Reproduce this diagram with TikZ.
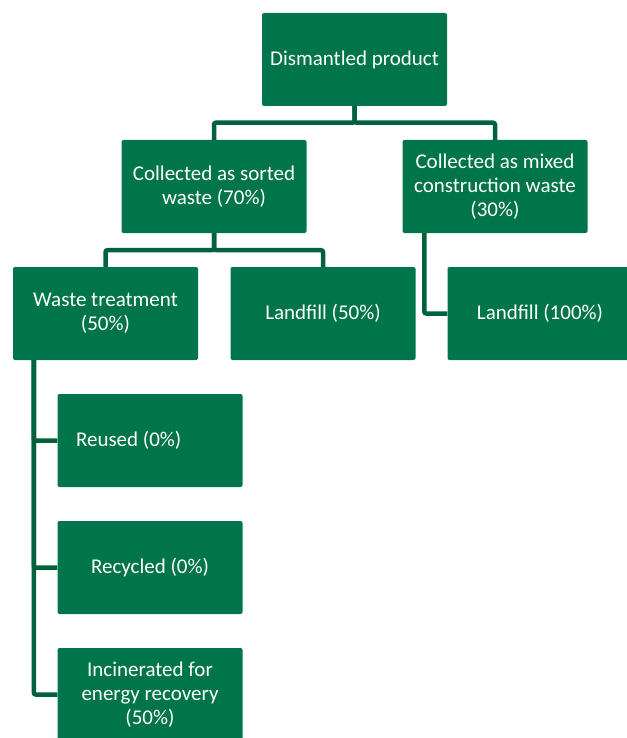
\documentclass[tikz,border=0pt]{standalone}
\usepackage{fontspec}
\setmainfont{Carlito}
\usepackage{tikz}
\definecolor{boxgreen}{RGB}{0,116,74}
\definecolor{linegreen}{RGB}{0,98,60}
\tikzstyle{stage} = [rectangle, rounded corners=2pt, minimum width=185pt, minimum height=93pt, inner sep=0pt, align=center, text=white, fill=boxgreen, font=\fontsize{21}{24}\selectfont]
\tikzstyle{link} = [line width=4.5pt, draw=linegreen, rounded corners=2pt]

\begin{document}
\begin{tikzpicture}[node distance=127pt]
\useasboundingbox (0,0) rectangle (626pt,-738pt);

\node (top) [stage] at (354.5pt,-59.5pt) {Dismantled product};
\node (sorted) [stage, below of=top, xshift=-140.5pt] {Collected as sorted\\waste (70\%)};
\node (mixed) [stage, below of=top, xshift=140.5pt] {Collected as mixed\\construction waste\\(30\%)};
\node (treat) [stage, below of=sorted, xshift=-108.5pt] {Waste treatment\\(50\%)};
\node (fillA) [stage, below of=sorted, xshift=109pt] {Landfill (50\%)};
\node (fillB) [stage, below of=mixed, xshift=45pt] {Landfill (100\%)};
\node (reused) [stage, below of=treat, xshift=44.5pt, text width=148pt, align=flush left] {Reused (0\%)};
\node (recycled) [stage, below of=reused] {Recycled (0\%)};
\node (burnt) [stage, below of=recycled] {Incinerated for\\energy recovery\\(50\%)};

\draw [link] (top.south) -- ++(0,-16.5pt) -| (sorted.north);
\draw [link] (top.south) -- ++(0,-16.5pt) -| (mixed.north);
\draw [link] (sorted.south) -- ++(0,-17pt) -| (treat.north);
\draw [link] (sorted.south) -- ++(0,-17pt) -| (fillA.north);
\draw [link] ([xshift=22pt]mixed.south west) |- (fillB.west);
\draw [link] ([xshift=21pt]treat.south west) |- (reused.west);
\draw [link] ([xshift=21pt]treat.south west) |- (recycled.west);
\draw [link] ([xshift=21pt]treat.south west) |- (burnt.west);

\end{tikzpicture}
\end{document}
